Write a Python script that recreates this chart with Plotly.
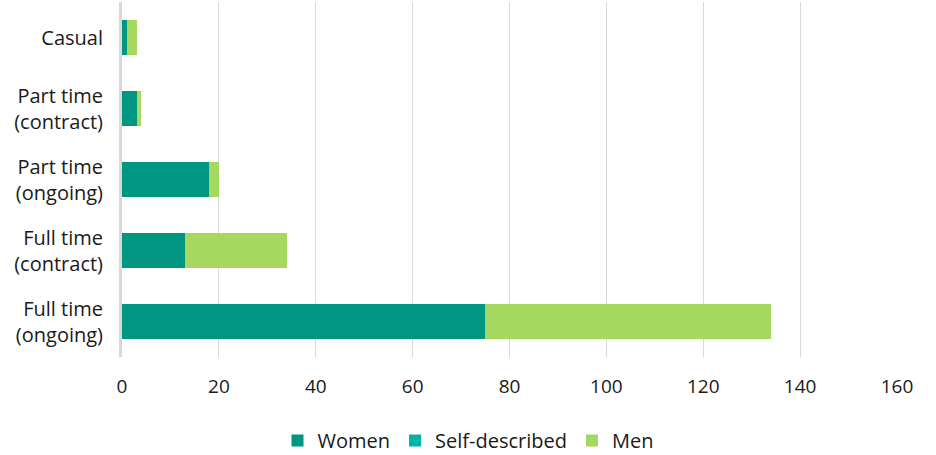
import plotly.graph_objects as go

categories = ["Casual", "Part time<br>(contract)", "Part time<br>(ongoing)",
              "Full time<br>(contract)", "Full time<br>(ongoing)"]
women = [1, 3, 18, 13, 75]
self_described = [0, 0, 0, 0, 0]
men = [2, 1, 2, 21, 59]
x_ticks = [0, 20, 40, 60, 80, 100, 120, 140, 160]

series = [
    ("Women", women, "#009681"),
    ("Self-described", self_described, "#00B2A9"),
    ("Men", men, "#A6D75F"),
]

fig = go.Figure()
for name, vals, color in series:
    fig.add_trace(go.Bar(
        y=categories, x=vals, name=name, orientation="h",
        marker=dict(color=color, line=dict(width=0)),
        hoverinfo="x+name",
    ))

fig.update_layout(
    barmode="stack",
    bargap=0.5,
    width=936, height=455,
    margin=dict(l=122, r=39, t=2, b=98),
    paper_bgcolor="white", plot_bgcolor="white",
    font=dict(family="Open Sans, Noto Sans, sans-serif", size=20, color="#1a1a1a"),
    xaxis=dict(
        range=[0, 160], tickvals=x_ticks, ticktext=[str(v) for v in x_ticks],
        showgrid=True, gridcolor="#D9D9D9", gridwidth=1,
        zeroline=False, showline=False, ticks="", ticklabelstandoff=16,
        tickfont=dict(size=19),
    ),
    yaxis=dict(
        autorange="reversed", showgrid=False, zeroline=False,
        showline=True, linecolor="#D9D9D9", linewidth=3,
        ticks="", ticklabelstandoff=12, tickfont=dict(size=20),
    ),
    legend=dict(
        orientation="h", xref="container", yref="container",
        x=0.5, xanchor="center", y=0.032, yanchor="middle",
        font=dict(size=20), itemwidth=30, traceorder="normal",
    ),
)

fig.write_html("out.html")
